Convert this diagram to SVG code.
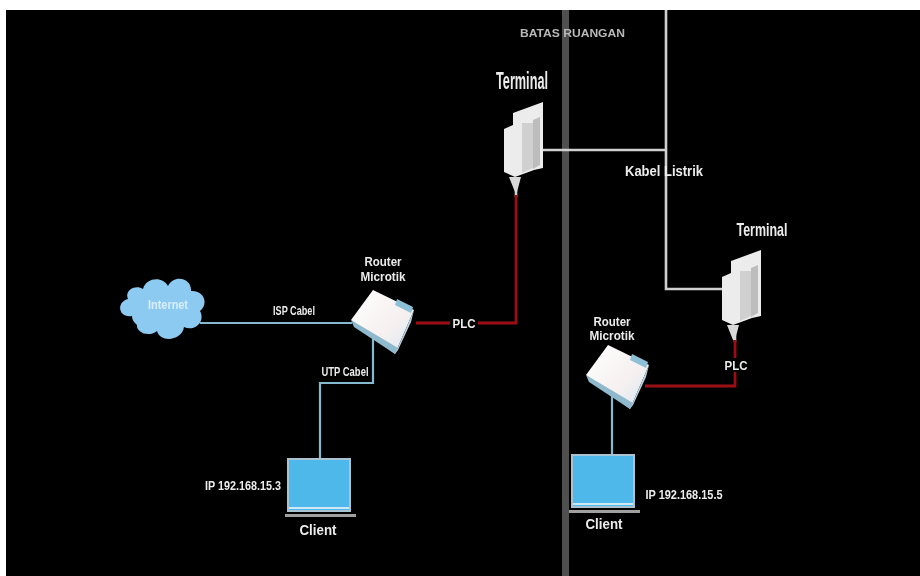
<svg xmlns="http://www.w3.org/2000/svg" width="920" height="576" viewBox="0 0 920 576">
<defs>
<filter id="soft" x="-5%" y="-5%" width="110%" height="110%"><feGaussianBlur stdDeviation="0.7"/></filter>
<linearGradient id="rw" x1="0" y1="0" x2="1" y2="1"><stop offset="0" stop-color="#ffffff"/><stop offset="0.6" stop-color="#f6f0f0"/><stop offset="1" stop-color="#d5e8f2"/></linearGradient>
<g id="terminal">
<path d="M0 27 L9 23 L9 11 L39 0 L39 66 L30 68 L11 75 L0 70 Z" fill="#ececec"/>
<path d="M18 21 L29 21 L29 66 L18 71 Z" fill="#d0d0d0"/>
<path d="M29 18 L36 15 L36 63 L29 67 Z" fill="#bdbdbd"/>
<path d="M5 75 L17 75 L13 90 L11 90 Z" fill="#d9d9d9"/>
</g>
<g id="router">
<path d="M22 0 L63 20 L44 64 L0 30 Z" fill="url(#rw)"/>
<path d="M0 30 L3 37 L44 64 L47 58 Z" fill="#8fb9cc"/>
<path d="M44 64 L63 20 L60 32 L47 60 Z" fill="#b9d4e0"/>
<path d="M46 9 L62 17 L60 23 L44 15 Z" fill="#8cc0d6"/>
</g>
<g id="laptop">
<rect x="3" y="0" width="62" height="52" fill="#4fb8ea" stroke="#a9c3d0" stroke-width="2"/>
<rect x="0" y="55" width="71" height="3" fill="#a0a0a0"/>
<rect x="4" y="48" width="60" height="2" fill="#cfe8f4"/>
</g>
</defs>
<style>
.bg{fill:#000}
.w{fill:none;stroke:#d0d0d0;stroke-width:2.6}
.b{fill:none;stroke:#86b8cf;stroke-width:2.2}
.r{fill:none;stroke:#9c1015;stroke-width:2.8}
.t{font-family:"Liberation Sans Narrow","Liberation Sans",sans-serif;font-weight:700;fill:#ececec;text-anchor:middle}
</style>
<rect width="920" height="576" fill="#fff"/>
<rect class="bg" x="6" y="10" width="914" height="566"/>
<g filter="url(#soft)">
<g id="connectors">
<rect x="562" y="10" width="7" height="566" fill="#505050"/>
<path class="w" d="M543 150H666M666 10V289H723"/>
<path class="w" d="M516 190V197M735 335V342"/>
<path class="r" d="M416 323H516V195"/>
<path class="r" d="M645 386H735V340"/>
<path class="b" d="M200 323H352"/>
<path class="b" d="M373 335V383H320V460"/>
<path class="b" d="M612 393V456"/>
</g>
<g id="boundary-label"><text x="572.500" y="37" font-size="10.500" font-family="Liberation Sans, sans-serif" font-weight="700" fill="#b8b8b8" text-anchor="middle" textLength="105" lengthAdjust="spacingAndGlyphs">BATAS RUANGAN</text></g>
<g id="terminal-1"><use href="#terminal" x="504" y="102"/><text class="t" x="522" y="89" font-size="23" textLength="52" lengthAdjust="spacingAndGlyphs">Terminal</text></g>
<g id="terminal-2"><use href="#terminal" x="722" y="250"/><text class="t" x="762" y="236" font-size="19" textLength="51" lengthAdjust="spacingAndGlyphs">Terminal</text></g>
<g id="cable-label"><text class="t" x="664" y="176" font-size="15" textLength="78" lengthAdjust="spacingAndGlyphs">Kabel Listrik</text></g>
<g id="internet">
<path d="M132 316C118 318 116 302 128 299C124 290 136 284 143 289C146 277 163 276 168 286C174 274 192 278 191 291C204 290 209 304 200 311C206 322 194 332 184 327C182 341 160 343 157 331C148 338 136 332 137 325C134 322 132 320 132 316Z" fill="#8ccaf2"/>
<text class="t" x="168" y="309" font-size="12" style="fill:#d8eefa" textLength="40" lengthAdjust="spacingAndGlyphs">Internet</text>
</g>
<g id="router-1"><use href="#router" x="351" y="290"/><text class="t" x="383" y="266" font-size="12.500" textLength="37" lengthAdjust="spacingAndGlyphs">Router</text><text class="t" x="383" y="281" font-size="12.500" textLength="45" lengthAdjust="spacingAndGlyphs">Microtik</text></g>
<g id="router-2"><use href="#router" x="586" y="345"/><text class="t" x="612" y="326" font-size="12.500" textLength="37" lengthAdjust="spacingAndGlyphs">Router</text><text class="t" x="612" y="340" font-size="12.500" textLength="45" lengthAdjust="spacingAndGlyphs">Microtik</text></g>
<g id="client-1"><use href="#laptop" x="285" y="459"/><text class="t" x="318" y="535" font-size="15" textLength="37" lengthAdjust="spacingAndGlyphs">Client</text><text class="t" x="243" y="490" font-size="12.500" textLength="76" lengthAdjust="spacingAndGlyphs">IP 192.168.15.3</text></g>
<g id="client-2"><use href="#laptop" x="569" y="455"/><text class="t" x="604" y="529" font-size="15" textLength="37" lengthAdjust="spacingAndGlyphs">Client</text><text class="t" x="684" y="499" font-size="12.500" textLength="77" lengthAdjust="spacingAndGlyphs">IP 192.168.15.5</text></g>
<g id="labels">
<text class="t" x="294" y="315" font-size="13" textLength="42" lengthAdjust="spacingAndGlyphs">ISP Cabel</text>
<text class="t" x="345" y="376" font-size="13" textLength="47" lengthAdjust="spacingAndGlyphs">UTP Cabel</text>
<rect x="450" y="316" width="28" height="14" fill="#000"/>
<text class="t" x="464" y="328" font-size="13.500" textLength="23" lengthAdjust="spacingAndGlyphs">PLC</text>
<rect x="723" y="358" width="26" height="14" fill="#000"/>
<text class="t" x="736" y="370" font-size="13.500" textLength="23" lengthAdjust="spacingAndGlyphs">PLC</text>
</g>
</g>
</svg>
